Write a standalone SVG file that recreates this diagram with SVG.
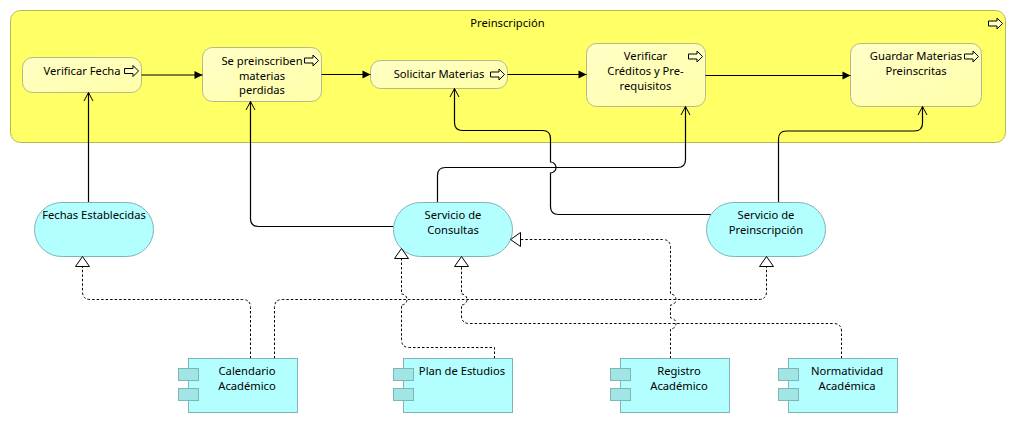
<svg xmlns="http://www.w3.org/2000/svg" width="1016" height="423" viewBox="0 0 1016 423">
<style>
text{font-family:"Noto Sans","Open Sans","Liberation Sans",sans-serif;font-size:11.2px;fill:#000;text-anchor:middle}
.grp{fill:#ffff66;stroke:#b8b84f}
.proc{fill:url(#pg);stroke:#b8b88a}
.srv{fill:#b3ffff;stroke:#7fb5b5}
.cmp{fill:#b3ffff;stroke:#7fb5b5}
.tab{fill:#a1e5e5;stroke:#7fb5b5}
.ico{fill:#ffffc8;stroke:#000}
.c{fill:none;stroke:#000;stroke-width:1.2}
.d{fill:none;stroke:#000;stroke-dasharray:2.5 2}
</style>
<defs>
<linearGradient id="pg" x1="0" y1="0" x2="1" y2="1"><stop offset="0" stop-color="#ffffc8"/><stop offset="1" stop-color="#ffffa8"/></linearGradient>
<marker id="open" markerUnits="userSpaceOnUse" markerWidth="12" markerHeight="12" refX="10" refY="6" orient="auto"><path d="M1.5 1.5 L10 6 L1.5 10.5" fill="none" stroke="#000"/></marker>
<marker id="fill" markerUnits="userSpaceOnUse" markerWidth="10" markerHeight="10" refX="9" refY="5" orient="auto"><path d="M1 1 L9 5 L1 9 Z" fill="#000" stroke="none"/></marker>
<path id="icon" d="M0 -2.5 H8.5 V-5.5 L14 0 L8.5 5.5 V2.5 H0 Z"/>
</defs>
<g id="node-preinscripcion"><rect class="grp" x="10.5" y="10.5" width="995" height="132" rx="10"/><text x="507.5" y="27">Preinscripción</text><use href="#icon" class="ico" x="988.5" y="23.5"/></g>
<g id="node-verificar-fecha"><rect class="proc" x="22.5" y="57.5" width="119" height="35" rx="10"/><text x="82" y="75">Verificar Fecha</text><use href="#icon" class="ico" x="124.5" y="71"/></g>
<g id="node-se-preinscriben"><rect class="proc" x="202.5" y="47.5" width="119" height="54" rx="10"/><text x="262" y="65">Se preinscriben</text><text x="262" y="80">materias</text><text x="262" y="94">perdidas</text><use href="#icon" class="ico" x="304.5" y="60.5"/></g>
<g id="node-solicitar"><rect class="proc" x="370.5" y="60.5" width="137" height="28" rx="10"/><text x="439" y="78">Solicitar Materias</text><use href="#icon" class="ico" x="490.5" y="74.5"/></g>
<g id="node-verificar-creditos"><rect class="proc" x="586.5" y="43.5" width="119" height="63" rx="10"/><text x="645.5" y="60">Verificar</text><text x="645.5" y="75">Créditos y Pre-</text><text x="645.5" y="90">requisitos</text><use href="#icon" class="ico" x="688.5" y="56.5"/></g>
<g id="node-guardar"><rect class="proc" x="850.5" y="43.5" width="131" height="63" rx="10"/><text x="916" y="60">Guardar Materias</text><text x="916" y="75">Preinscritas</text><use href="#icon" class="ico" x="964.5" y="56.5"/></g>
<g id="connectors">
<path class="c" marker-end="url(#fill)" d="M141.5 75 H202.5"/>
<path class="c" marker-end="url(#fill)" d="M321.5 74.5 H370.5"/>
<path class="c" marker-end="url(#fill)" d="M507.5 74.5 H586.5"/>
<path class="c" marker-end="url(#fill)" d="M705.5 75.5 H850.5"/>
<path class="c" marker-end="url(#open)" d="M88.5 202.5 V92.5"/>
<path class="c" marker-end="url(#open)" d="M393.5 226.5 H258.5 Q250.5 226.5 250.5 218.5 V101.5"/>
<path class="c" marker-end="url(#open)" d="M437.5 202.5 V175.5 Q437.5 167.5 445.5 167.5 H677.5 Q685.5 167.5 685.5 159.5 V106.5"/>
<path class="c" marker-end="url(#open)" d="M711 214.5 H558.5 Q550.5 214.5 550.5 206.5 V173 A5.5 5.5 0 0 0 550.5 162 V138.5 Q550.5 130.5 542.5 130.5 H462.5 Q454.5 130.5 454.5 122.5 V88.5"/>
<path class="c" marker-end="url(#open)" d="M778.5 202.5 V139 Q778.5 131 786.5 131 H914.5 Q922.5 131 922.5 123 V106.5"/>
<path class="d" d="M250.5 358.5 V307.5 Q250.5 299.5 242.5 299.5 H90.5 Q82.5 299.5 82.5 291.5 V266.5"/>
<path class="d" d="M274.5 358.5 V307.5 Q274.5 299.5 282.5 299.5 H758.5 Q766.5 299.5 766.5 291.5 V266.5"/>
<path class="d" d="M494.5 358.5 V347.5 H409.5 Q401.5 347.5 401.5 339.5 V305 A5.5 5.5 0 0 0 401.5 294 V258.5"/>
<path class="d" d="M841.5 358.5 V331.5 Q841.5 323.5 833.5 323.5 H469.5 Q461.5 323.5 461.5 315.5 V305 A5.5 5.5 0 0 0 461.5 294 V266.5"/>
<path class="d" d="M670.5 358.5 V329 A5.5 5.5 0 0 0 670.5 318 V305 A5.5 5.5 0 0 0 670.5 294 V247.5 Q670.5 239.5 662.5 239.5 H520.5"/>
</g>
<g id="node-fechas"><rect class="srv" x="34.5" y="202.5" width="119" height="54" rx="27"/><text x="94" y="219">Fechas Establecidas</text></g>
<g id="node-consultas"><rect class="srv" x="393.5" y="202.5" width="119" height="54" rx="27"/><text x="453" y="219">Servicio de</text><text x="453" y="234">Consultas</text></g>
<g id="node-servicio-preinscripcion"><rect class="srv" x="706.5" y="202.5" width="119" height="54" rx="27"/><text x="766" y="219">Servicio de</text><text x="766" y="234">Preinscripción</text></g>
<g id="triangles" fill="#fff" stroke="#000">
<path d="M82.5 256.5 L89.5 266.5 H75.5 Z"/>
<path d="M401.5 248.5 L408.5 258.5 H394.5 Z"/>
<path d="M461.5 256.5 L468.5 266.5 H454.5 Z"/>
<path d="M766.5 256.5 L773.5 266.5 H759.5 Z"/>
<path d="M510.5 239.5 L520.5 232.5 V246.5 Z"/>
</g>
<g id="node-calendario"><rect class="cmp" x="188.5" y="358.5" width="109" height="54"/><rect class="tab" x="178.5" y="368.5" width="20" height="12"/><rect class="tab" x="178.5" y="388.5" width="20" height="12"/><text x="247" y="375">Calendario</text><text x="247" y="390">Académico</text></g>
<g id="node-plan"><rect class="cmp" x="403.5" y="358.5" width="109" height="54"/><rect class="tab" x="393.5" y="368.5" width="20" height="12"/><rect class="tab" x="393.5" y="388.5" width="20" height="12"/><text x="462" y="375">Plan de Estudios</text></g>
<g id="node-registro"><rect class="cmp" x="620.5" y="358.5" width="109" height="54"/><rect class="tab" x="610.5" y="368.5" width="20" height="12"/><rect class="tab" x="610.5" y="388.5" width="20" height="12"/><text x="679" y="375">Registro</text><text x="679" y="390">Académico</text></g>
<g id="node-normatividad"><rect class="cmp" x="788.5" y="358.5" width="109" height="54"/><rect class="tab" x="778.5" y="368.5" width="20" height="12"/><rect class="tab" x="778.5" y="388.5" width="20" height="12"/><text x="847" y="375">Normatividad</text><text x="847" y="390">Académica</text></g>
</svg>
